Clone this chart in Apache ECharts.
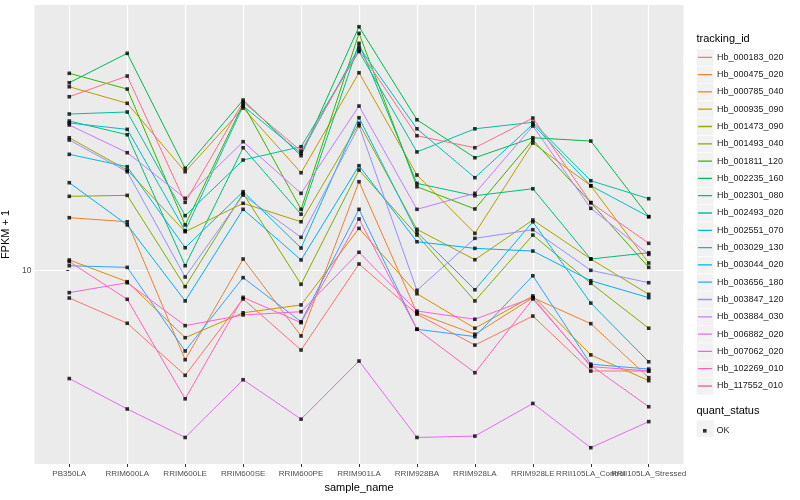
<!DOCTYPE html>
<html><head><meta charset="utf-8">
<script src="https://cdn.jsdelivr.net/npm/echarts@6/dist/echarts.min.js"></script>
<style>html,body{margin:0;padding:0;background:#fff}#c{width:800px;height:500px}</style>
</head><body><div id="c"></div>
<script>
// ---- data ----
const categories = ['PB350LA','RRIM600LA','RRIM600LE','RRIM600SE','RRIM600PE','RRIM901LA','RRIM928BA','RRIM928LA','RRIM928LE','RRII105LA_Control','RRII105LA_Stressed'];
const trackingIds = ['Hb_000183_020','Hb_000475_020','Hb_000785_040','Hb_000935_090','Hb_001473_090','Hb_001493_040','Hb_001811_120','Hb_002235_160','Hb_002301_080','Hb_002493_020','Hb_002551_070','Hb_003029_130','Hb_003044_020','Hb_003656_180','Hb_003847_120','Hb_003884_030','Hb_006882_020','Hb_007062_020','Hb_102269_010','Hb_117552_010'];
const Hb_000183_020 = [8.11, 6.68, 4.48, 8.05, 5.44, 10.53, 7.16, 5.65, 7.06, 4.63, 4.63];
const Hb_000475_020 = [15.02, 14.56, 5.05, 10.94, 6.06, 19.80, 7.24, 6.14, 8.13, 6.66, 4.40];
const Hb_000785_040 = [10.86, 9.19, 5.98, 7.24, 7.69, 13.84, 8.38, 6.43, 8.24, 5.24, 4.30];
const Hb_000935_090 = [41.05, 36.14, 21.38, 34.86, 21.21, 45.71, 20.84, 13.32, 26.64, 19.20, 10.61];
const Hb_001473_090 = [27.75, 21.66, 13.49, 16.78, 14.56, 31.00, 13.74, 10.88, 14.76, 10.94, 8.34];
const Hb_001493_040 = [17.70, 17.83, 8.85, 18.11, 9.01, 21.66, 13.15, 7.93, 13.15, 9.08, 6.43];
const Hb_001811_120 = [45.50, 40.33, 14.21, 35.95, 16.02, 61.85, 19.05, 16.06, 27.27, 16.86, 10.26];
const Hb_002235_160 = [42.33, 53.04, 21.95, 37.07, 24.17, 65.06, 31.86, 23.80, 27.75, 27.06, 15.14];
const Hb_002301_080 = [31.55, 28.40, 10.39, 25.70, 15.42, 57.28, 19.55, 17.78, 18.76, 10.94, 11.48];
const Hb_002493_020 = [33.29, 33.81, 15.26, 23.39, 25.90, 53.78, 24.88, 29.72, 31.24, 19.95, 17.38];
const Hb_002551_070 = [31.07, 29.60, 13.59, 35.40, 24.62, 55.68, 29.72, 20.42, 30.76, 19.20, 15.14];
const Hb_003029_130 = [24.43, 22.22, 11.93, 18.34, 11.90, 32.36, 13.43, 8.64, 14.56, 7.80, 4.97];
const Hb_003044_020 = [19.65, 14.21, 7.93, 16.02, 10.86, 22.39, 12.49, 11.87, 11.63, 9.26, 8.13];
const Hb_003656_180 = [10.39, 10.26, 5.40, 9.48, 6.76, 16.02, 6.38, 6.03, 9.62, 4.88, 4.70];
const Hb_003847_120 = [27.27, 21.38, 9.53, 17.87, 12.92, 30.43, 8.60, 12.82, 13.70, 10.03, 9.12];
const Hb_003884_030 = [30.60, 24.74, 17.43, 26.92, 18.11, 35.40, 16.02, 18.11, 30.36, 16.14, 11.34];
const Hb_006882_020 = [4.37, 3.46, 2.78, 4.33, 3.20, 5.00, 2.78, 2.81, 3.61, 2.57, 3.14];
const Hb_007062_020 = [8.45, 9.12, 6.56, 7.12, 7.30, 11.52, 7.34, 6.89, 8.13, 4.79, 4.63];
const Hb_102269_010 = [10.72, 8.03, 3.74, 8.15, 6.71, 14.87, 6.38, 4.57, 8.05, 4.83, 3.52];
const Hb_117552_010 = [38.02, 44.57, 16.90, 36.50, 25.06, 54.40, 28.18, 25.70, 32.28, 16.86, 12.34];
const yTickValues = [10];
const quantStatus = ['OK'];

// ---- styles ----
const palette = ['#F8766D','#EA8331','#D89000','#C09B00','#A3A500','#7CAE00','#39B600','#00BB4E','#00BF7D','#00C1A3','#00BFC4','#00BAE0','#00B0F6','#35A2FF','#9590FF','#C77CFF','#E76BF3','#FA62DB','#FF62BC','#FF6C90'];
const FONT = '"Liberation Sans", Arial, sans-serif';
const seriesValues = [Hb_000183_020,Hb_000475_020,Hb_000785_040,Hb_000935_090,Hb_001473_090,Hb_001493_040,Hb_001811_120,Hb_002235_160,Hb_002301_080,Hb_002493_020,Hb_002551_070,Hb_003029_130,Hb_003044_020,Hb_003656_180,Hb_003847_120,Hb_003884_030,Hb_006882_020,Hb_007062_020,Hb_102269_010,Hb_117552_010];
const catIdx = categories.map((_, i) => i);
const lastIdx = catIdx.length - 1;
// legend key: thin horizontal bar centred in a 14 x 17.3 box (corner points keep the box)
const KEY_ICON = 'path://M0,0L0.01,0ZM0,8.0L14,8.0L14,9.3L0,9.3ZM14,17.3L13.99,17.3Z';

const lineSeries = trackingIds.map((id, k) => ({
  name: id, type: 'line', symbol: 'none', silent: true, z: 2,
  data: seriesValues[k].map((v, i) => [i, v]),
  lineStyle: { width: 1, color: palette[k] }, itemStyle: { color: palette[k] }
}));
const pts = [];
seriesValues.forEach(arr => arr.forEach((v, i) => pts.push([i, v])));
const pointSeries = {
  name: quantStatus[0], type: 'scatter', data: pts, symbol: 'rect', symbolSize: 3.6,
  itemStyle: { color: '#000' }, z: 4, silent: true
};

const keyRects = trackingIds.map((_, k) => ({
  type: 'rect', left: 696.3, top: 48.65 + 17.3 * k, z: -1,
  shape: { width: 17.3, height: 17.3 }, style: { fill: '#F2F2F2', stroke: '#fff', lineWidth: 0.5 }
}));
keyRects.push({ type: 'rect', left: 696.3, top: 419.7, z: -1,
  shape: { width: 17.3, height: 17.3 }, style: { fill: '#F2F2F2', stroke: '#fff', lineWidth: 0.5 } });

const xLabelStyle = { interval: 0, formatter: v => categories[Math.round(v)], fontSize: 8, color: '#4D4D4D', margin: 6, hideOverlap: false, fontFamily: FONT };

const option = {
  animation: false,
  backgroundColor: '#fff',
  textStyle: { fontFamily: FONT },
  title: [
    { text: 'tracking_id', left: 696.5, top: 33, padding: 0, textStyle: { fontSize: 11, fontWeight: 'normal', color: '#000', fontFamily: FONT } },
    { text: 'quant_status', left: 696.5, top: 405, padding: 0, textStyle: { fontSize: 11, fontWeight: 'normal', color: '#000', fontFamily: FONT } }
  ],
  grid: { left: 34.5, right: 116.5, top: 5, bottom: 36, show: true, backgroundColor: '#EBEBEB', borderWidth: 0, containLabel: false, outerBoundsMode: 'none' },
  xAxis: [{
    type: 'value', min: -0.6, max: 10.6, position: 'bottom',
    name: 'sample_name', nameLocation: 'middle', nameGap: 17,
    nameTextStyle: { fontSize: 11, color: '#000', fontFamily: FONT },
    axisLine: { show: false },
    axisTick: { show: true, customValues: catIdx, length: 3, lineStyle: { color: '#333', width: 1 } },
    axisLabel: Object.assign({ customValues: catIdx.slice(0, lastIdx) }, xLabelStyle),
    splitLine: { show: true, lineStyle: { color: '#fff', width: 1.2 } }
  }, {
    type: 'value', min: -0.6, max: 10.6, position: 'bottom', offset: 0,
    axisLine: { show: false }, axisTick: { show: false }, splitLine: { show: false },
    axisLabel: Object.assign({ customValues: [lastIdx] }, xLabelStyle)
  }],
  yAxis: {
    type: 'log', logBase: 10, min: 2.268, max: 76.87,
    name: 'FPKM + 1', nameLocation: 'middle', nameGap: 16, nameRotate: 90,
    nameTextStyle: { fontSize: 11, color: '#000', fontFamily: FONT },
    axisLine: { show: false },
    axisTick: { show: true, customValues: yTickValues, length: 3, lineStyle: { color: '#333', width: 1 } },
    axisLabel: { customValues: yTickValues, formatter: v => String(v), fontSize: 8.5, color: '#4D4D4D', margin: 3, fontFamily: FONT },
    splitLine: { show: true, lineStyle: { color: '#fff', width: 1.2 } }
  },
  legend: [
    { data: trackingIds, orient: 'vertical', left: 698, top: 48.65, padding: 0, itemWidth: 14, itemHeight: 17.3, itemGap: 0,
      icon: KEY_ICON, selectedMode: false, textStyle: { fontSize: 9, color: '#1A1A1A', fontFamily: FONT } },
    { data: quantStatus, orient: 'vertical', left: 703, top: 426.3, padding: 0, itemWidth: 3.6, itemHeight: 3.6,
      icon: 'rect', selectedMode: false, textStyle: { fontSize: 9, color: '#1A1A1A', fontFamily: FONT, padding: [0, 0, 0, 5] } }
  ],
  graphic: keyRects,
  series: [...lineSeries, pointSeries]
};
const chart = echarts.init(document.getElementById('c'));
chart.setOption(option);
</script></body></html>
